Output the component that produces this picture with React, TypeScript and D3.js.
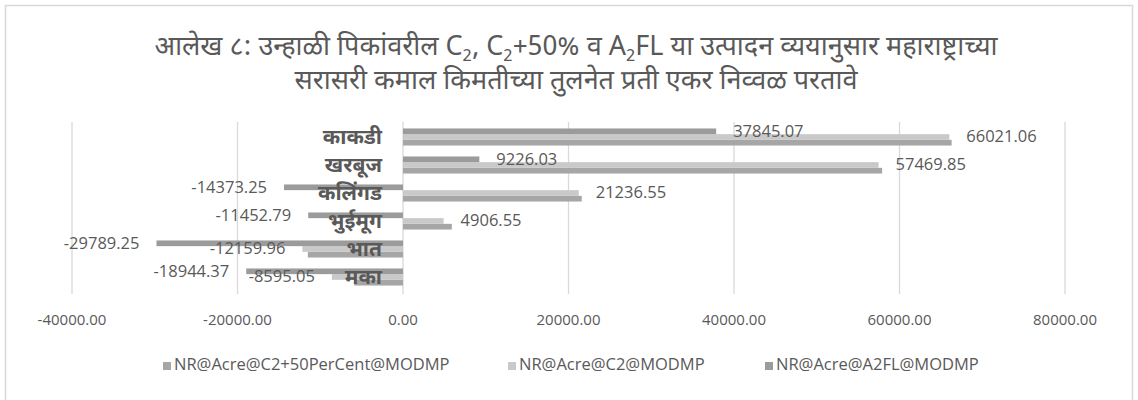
import React, { useEffect, useRef } from "react";
import * as d3 from "d3";

// categories listed top to bottom as they appear
const categories = ["काकडी", "खरबूज", "कलिंगड", "भुईमूग", "भात", "मका"];

const seriesA2FL = [37845.07, 9226.03, -14373.25, -11452.79, -29789.25, -18944.37];
const seriesC2 = [66021.06, 57469.85, 21236.55, 4906.55, -12159.96, -8595.05];
const seriesC2p50 = [66300, 57900, 21600, 5900, -11500, -5900];

const seriesNames = ["NR@Acre@C2+50PerCent@MODMP", "NR@Acre@C2@MODMP", "NR@Acre@A2FL@MODMP"];
const xTicks = [-40000, -20000, 0, 20000, 40000, 60000, 80000];

// title pieces: [text, isSubscript]
const titleLine1: [string, boolean][] = [
  ["आलेख ८: उन्हाळी पिकांवरील C", false],
  ["2", true],
  [", C", false],
  ["2", true],
  ["+50%  व A", false],
  ["2", true],
  ["FL या उत्पादन व्ययानुसार महाराष्ट्राच्या", false],
];
const titleLine2 = "सरासरी कमाल किमतीच्या तुलनेत प्रती एकर निव्वळ परतावे";

const W = 1138;
const H = 400;
const latin = "'Open Sans', 'Liberation Sans', sans-serif";
const deva = "'Noto Sans Devanagari', 'Lohit Devanagari', 'Noto Sans', sans-serif";
const textCol = "#595959";

export default function App() {
  const svgRef = useRef<SVGSVGElement>(null);

  useEffect(() => {
    if (!svgRef.current) return;
    const svg = d3.select(svgRef.current);
    svg.selectAll("*").remove();

    svg.append("rect").attr("width", W).attr("height", H).attr("fill", "#fff");
    // chart frame
    svg.append("rect")
      .attr("x", 5.5).attr("y", 5.5)
      .attr("width", W - 11).attr("height", H)
      .attr("fill", "none").attr("stroke", "#d9d9d9").attr("stroke-width", 1.5);

    // title (two lines)
    const title = svg.append("text")
      .attr("text-anchor", "middle")
      .attr("fill", textCol)
      .attr("font-family", deva)
      .attr("font-size", 27);
    const l1 = title.append("tspan").attr("x", 576).attr("y", 55);
    let shifted = false;
    titleLine1.forEach(([s, isSub]) => {
      const t = l1.append("tspan").text(s);
      if (isSub && !shifted) { t.attr("dy", 6).attr("font-size", 17); shifted = true; }
      else if (isSub) t.attr("font-size", 17);
      else if (shifted) { t.attr("dy", -6); shifted = false; }
    });
    title.append("tspan").attr("x", 576).attr("y", 89).text(titleLine2);

    const x = d3.scaleLinear().domain([-40000, 80000]).range([72, 1065]);
    const y = d3.scaleBand<string>().domain(categories).range([123, 291])
      .paddingInner(0.39).paddingOuter(0.195);
    // series order inside a group, top to bottom
    const inner = d3.scaleBand<number>().domain([2, 1, 0]).range([0, y.bandwidth()]);
    const colors = ["#a6a6a6", "#c9c9c9", "#9b9b9b"];
    const values = [seriesC2p50, seriesC2, seriesA2FL];

    // vertical gridlines
    svg.append("g")
      .selectAll("line")
      .data(xTicks)
      .join("line")
      .attr("x1", d => x(d)).attr("x2", d => x(d))
      .attr("y1", 122).attr("y2", 294)
      .attr("stroke", "#d9d9d9").attr("stroke-width", 1.3);

    // bars
    values.forEach((vals, si) => {
      svg.append("g")
        .selectAll("rect")
        .data(vals)
        .join("rect")
        .attr("x", d => Math.min(x(0), x(d)))
        .attr("width", d => Math.abs(x(d) - x(0)))
        .attr("y", (d, i) => (y(categories[i]) as number) + (inner(si) as number))
        .attr("height", inner.bandwidth())
        .attr("fill", colors[si]);
    });

    // data labels (A2FL and C2 only, as in the original)
    [2, 1].forEach(si => {
      svg.append("g")
        .selectAll("text")
        .data(values[si])
        .join("text")
        .attr("x", d => (d >= 0 ? x(d) + 17 : x(d) - 17))
        .attr("y", (d, i) => (y(categories[i]) as number) + (inner(si) as number) + inner.bandwidth() / 2 + 1)
        .attr("dominant-baseline", "middle")
        .attr("text-anchor", d => (d >= 0 ? "start" : "end"))
        .attr("font-family", latin)
        .attr("font-size", 16.5)
        .attr("fill", textCol)
        .text(d => d.toFixed(2));
    });

    // category labels, sitting just left of the zero axis
    svg.append("g")
      .selectAll("text")
      .data(categories)
      .join("text")
      .attr("x", x(0) - 21)
      .attr("y", d => (y(d) as number) + y.bandwidth() / 2 + 1)
      .attr("dominant-baseline", "middle")
      .attr("text-anchor", "end")
      .attr("font-family", deva)
      .attr("font-weight", "bold")
      .attr("font-size", 21)
      .attr("fill", textCol)
      .text(d => d);

    // x axis labels
    svg.append("g")
      .selectAll("text")
      .data(xTicks)
      .join("text")
      .attr("x", d => x(d))
      .attr("y", 321)
      .attr("dominant-baseline", "middle")
      .attr("text-anchor", "middle")
      .attr("font-family", latin)
      .attr("font-size", 15)
      .attr("fill", textCol)
      .text(d => d.toFixed(2));

    // legend
    const legendX = [163, 508, 765];
    const lg = svg.append("g");
    seriesNames.forEach((name, i) => {
      lg.append("rect")
        .attr("x", legendX[i]).attr("y", 362)
        .attr("width", 8).attr("height", 8)
        .attr("fill", colors[i]);
      lg.append("text")
        .attr("x", legendX[i] + 11).attr("y", 366)
        .attr("dominant-baseline", "middle")
        .attr("font-family", latin)
        .attr("font-size", 16.5)
        .attr("fill", textCol)
        .text(name);
    });
  }, []);

  return (
    <svg
      ref={svgRef}
      width={W}
      height={H}
      style={{ position: "absolute", left: 0, top: 0, display: "block" }}
    />
  );
}
